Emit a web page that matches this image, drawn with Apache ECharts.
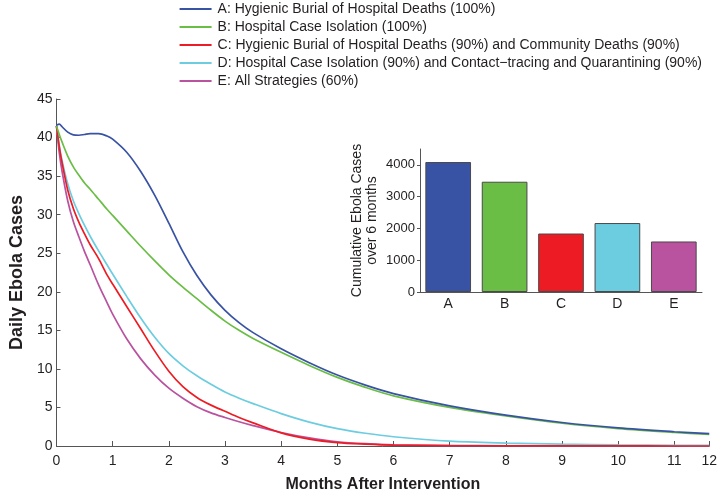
<!DOCTYPE html>
<html>
<head>
<meta charset="utf-8">
<script src="https://cdn.jsdelivr.net/npm/echarts@6/dist/echarts.min.js"></script>
<style>
html,body{margin:0;padding:0;background:#fff;}
#chart{width:720px;height:498px;}
</style>
</head>
<body>
<div id="chart"></div>
<script>
// ---- data ----
const months  = [0, 0.05, 0.1, 0.2, 0.3, 0.4, 0.5, 0.6, 0.75, 0.9, 1, 1.25, 1.5, 1.75, 2, 2.25, 2.5, 2.75, 3, 3.25, 3.5, 4, 4.5, 5, 5.5, 6, 7, 8, 9, 10, 11, 11.62];
const seriesA = [41.6, 41.75, 41.4, 40.7, 40.35, 40.3, 40.4, 40.5, 40.5, 40.2, 39.8, 38.1, 35.6, 32.5, 28.9, 25.2, 22.1, 19.6, 17.6, 16.0, 14.7, 12.6, 10.8, 9.2, 7.9, 6.8, 5.2, 4.0, 3.05, 2.35, 1.85, 1.6];
const seriesB = [41.5, 40.4, 39.4, 37.6, 36.2, 35.1, 34.1, 33.3, 32.0, 30.7, 29.9, 27.9, 25.9, 24.0, 22.2, 20.6, 19.1, 17.6, 16.2, 15.0, 13.95, 12.15, 10.45, 8.9, 7.6, 6.5, 5.0, 3.9, 2.95, 2.25, 1.75, 1.5];
const seriesC = [41.5, 38.8, 36.7, 33.2, 30.8, 29.0, 27.5, 26.1, 24.3, 22.2, 21.0, 18.1, 15.2, 12.3, 9.7, 7.7, 6.3, 5.3, 4.5, 3.7, 3.0, 1.7, 0.9, 0.45, 0.25, 0.12, 0.05, 0.02, 0.01, 0.01, 0, 0];
const seriesD = [41.5, 39.0, 37.0, 34.0, 31.8, 30.1, 28.6, 27.2, 25.3, 23.5, 22.3, 19.4, 16.6, 14.1, 12.0, 10.4, 9.1, 8.0, 7.0, 6.2, 5.5, 4.2, 3.1, 2.25, 1.65, 1.2, 0.62, 0.38, 0.24, 0.15, 0.1, 0.08];
const seriesE = [41.5, 38.0, 35.6, 31.8, 29.1, 27.1, 25.2, 23.5, 20.9, 18.6, 17.1, 13.9, 11.3, 9.2, 7.5, 6.2, 5.1, 4.3, 3.7, 3.15, 2.65, 1.75, 1.05, 0.55, 0.3, 0.16, 0.06, 0.03, 0.01, 0.01, 0, 0];
const legendNames = [
  'A: Hygienic Burial of Hospital Deaths (100%)',
  'B: Hospital Case Isolation (100%)',
  'C: Hygienic Burial of Hospital Deaths (90%) and Community Deaths (90%)',
  'D: Hospital Case Isolation (90%) and Contact\u2212tracing and Quarantining (90%)',
  'E: All Strategies (60%)'
];
const barCategories = ['A', 'B', 'C', 'D', 'E'];
const barValues = [4090, 3470, 1840, 2170, 1590];
const xTickLabels = ['0','1','2','3','4','5','6','7','8','9','10','11','12'];
const yTicks = [0, 5, 10, 15, 20, 25, 30, 35, 40, 45];
const insetTicks = [0, 1000, 2000, 3000, 4000];

// ---- styles ----
const colors = ['#3953a4', '#6abd45', '#ed1c24', '#6dcde0', '#b9529f'];
const FONT = '"Liberation Sans", Arial, Helvetica, sans-serif';
const TXT = '#231f20';
const AX = '#555555';

const chart = echarts.init(document.getElementById('chart'), null, {renderer: 'canvas'});

const allSeries = [seriesA, seriesB, seriesC, seriesD, seriesE];
const lineSeries = allSeries.map((vals, i) => ({
  name: legendNames[i],
  type: 'line',
  xAxisIndex: 0, yAxisIndex: 0,
  data: months.map((m, j) => [m, vals[j]]),
  symbol: 'none',
  smooth: 0.3,
  lineStyle: {color: colors[i], width: 1.7},
  itemStyle: {color: colors[i]},
  z: 10 - i
}));

const xMax = months[months.length - 1];

// legend placement: text column ends where the reference's does
const mctx = document.createElement('canvas').getContext('2d');
mctx.font = '14px ' + FONT;
const maxW = Math.max(...legendNames.map(n => mctx.measureText(n).width));
const legendLeft = 702 - maxW - 32 - 6;

chart.setOption({
  animation: false,
  backgroundColor: '#ffffff',
  textStyle: {fontFamily: FONT, color: TXT},
  legend: {
    data: legendNames.map(n => ({name: n, icon: 'path://M0,0H32V1.8H0Z'})),
    orient: 'vertical',
    left: legendLeft,
    top: 2,
    itemWidth: 32,
    itemHeight: 14,
    itemGap: 4,
    padding: 0,
    symbolKeepAspect: true,
    textStyle: {fontSize: 14, color: TXT, fontFamily: FONT, lineHeight: 14, padding: [0,0,0,1]}
  },
  grid: [
    {left: 45.5, right: 10, top: 99, bottom: 48.5, containLabel: false},
    {left: 420, right: 18, top: 149, bottom: 206, containLabel: false}
  ],
  xAxis: [
    {
      type: 'value', gridIndex: 0, min: 0, max: xMax, interval: 1,
      name: 'Months After Intervention', nameLocation: 'middle', nameGap: 31,
      nameTextStyle: {fontSize: 16, fontWeight: 'bold', color: TXT, fontFamily: FONT},
      axisLine: {show: true, lineStyle: {color: AX, width: 1}},
      axisTick: {show: true, inside: true, length: 5, lineStyle: {color: AX}},
      axisLabel: {
        fontSize: 14, color: TXT, margin: 8, fontFamily: FONT,
        formatter: v => (v >= xMax - 1e-6 ? xTickLabels[xTickLabels.length - 1] : xTickLabels[Math.round(v)])
      },
      splitLine: {show: false}
    },
    {
      type: 'category', gridIndex: 1, data: barCategories,
      axisLine: {show: true, lineStyle: {color: AX, width: 1}},
      axisTick: {show: false},
      axisLabel: {fontSize: 14, color: TXT, margin: 5, fontFamily: FONT},
      splitLine: {show: false}
    }
  ],
  yAxis: [
    {
      type: 'value', gridIndex: 0, min: yTicks[0], max: yTicks[yTicks.length - 1], interval: 5,
      name: 'Daily Ebola Cases', nameLocation: 'middle', nameGap: 28,
      nameTextStyle: {fontSize: 18, fontWeight: 'bold', color: TXT, fontFamily: FONT},
      axisLine: {show: true, lineStyle: {color: AX, width: 1}},
      axisTick: {show: true, inside: true, length: 4, lineStyle: {color: AX}},
      axisLabel: {fontSize: 14, color: TXT, margin: 4, fontFamily: FONT},
      splitLine: {show: false}
    },
    {
      type: 'value', gridIndex: 1, min: 0, max: 4500, interval: 1000,
      name: 'Cumulative Ebola Cases\nover 6 months', nameLocation: 'middle', nameGap: 40,
      nameTextStyle: {fontSize: 14, color: TXT, fontFamily: FONT, lineHeight: 15, align: 'center'},
      axisLine: {show: true, lineStyle: {color: AX, width: 1}},
      axisTick: {show: true, inside: false, length: 3, lineStyle: {color: AX}, customValues: insetTicks},
      axisLabel: {fontSize: 13, color: TXT, margin: 5, fontFamily: FONT, customValues: insetTicks,
        formatter: v => String(v)},
      splitLine: {show: false}
    }
  ],
  series: lineSeries.concat([{
    type: 'bar', xAxisIndex: 1, yAxisIndex: 1,
    data: barValues.map((v, i) => ({value: v, itemStyle: {color: colors[i]}})),
    barWidth: '81%',
    itemStyle: {borderColor: '#4a4a4a', borderWidth: 1},
    z: 20
  }])
});
</script>
</body>
</html>
